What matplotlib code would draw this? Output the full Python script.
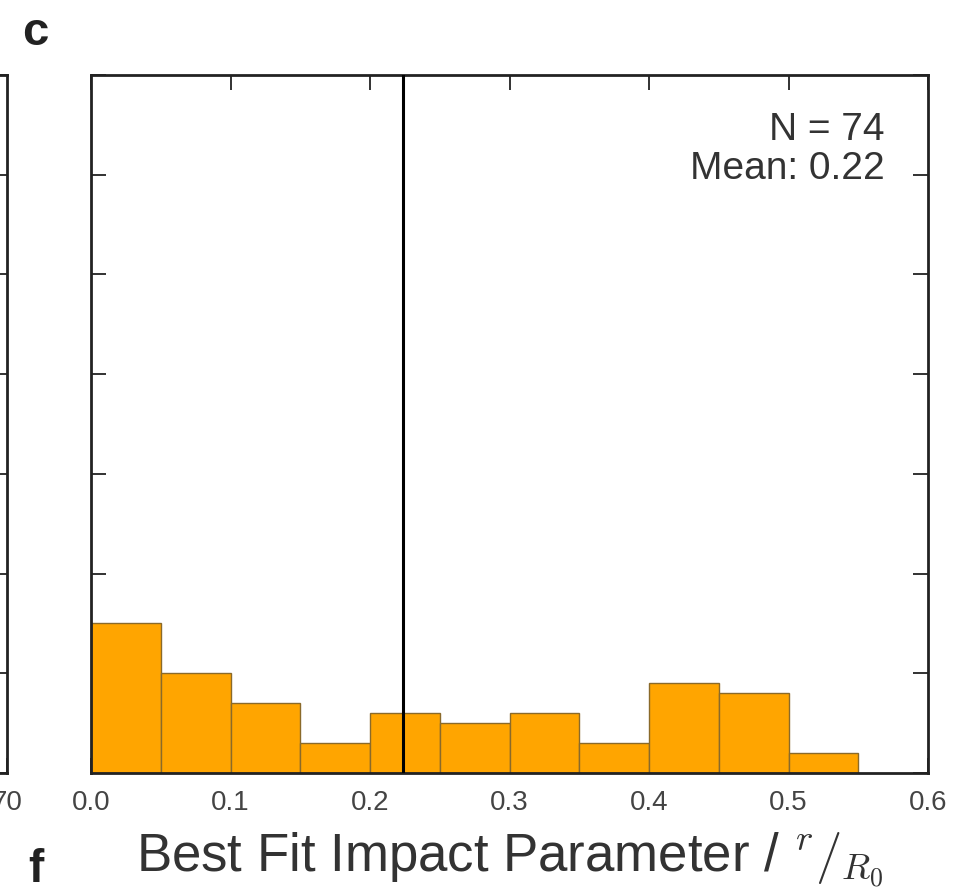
import matplotlib
matplotlib.use("Agg")
import matplotlib.pyplot as plt
import numpy as np

plt.rcParams['font.family'] = ['Liberation Sans', 'DejaVu Sans']
plt.rcParams['mathtext.fontset'] = 'cm'

# histogram of best fit impact parameter (counts per 0.05 bin)
bin_edges = [0.0, 0.05, 0.10, 0.15, 0.20, 0.25, 0.30, 0.35, 0.40, 0.45, 0.50, 0.55]
counts = [15, 10, 7, 3, 6, 5, 6, 3, 9, 8, 2]
mean_value = 0.224
n_total = 74
xticks = [0.0, 0.1, 0.2, 0.3, 0.4, 0.5, 0.6]
yticks = [0, 10, 20, 30, 40, 50, 60, 70]

fig = plt.figure(figsize=(9.56, 8.91), dpi=100)

spine_col = '#222222'
text_col = '#444444'

ax = fig.add_axes([91/956, 1-773/891, (928-91)/956, (773-75)/891])

ax.bar(bin_edges[:-1], counts, width=np.diff(bin_edges), align='edge',
       color='#FFA500', edgecolor='#8a6a2a', linewidth=1.0, zorder=2)
ax.axvline(mean_value, color='black', linewidth=2.2, zorder=3)

ax.set_xlim(0, 0.6)
ax.set_ylim(0, 70)
ax.set_xticks(xticks)
ax.set_yticks(yticks)
ax.set_yticklabels([])
ax.tick_params(direction='in', length=11, width=1.3, colors=spine_col,
               top=True, right=True, labelsize=20, pad=12)
for lab in ax.get_xticklabels():
    lab.set_color(text_col)
for s in ax.spines.values():
    s.set_color(spine_col)
    s.set_linewidth(2.0)

ax.text(0.948, 0.947, f"N = {n_total}\nMean: 0.22", transform=ax.transAxes,
        ha='right', va='top', fontsize=28, color='#333333', linespacing=1.1)

ax.set_xlabel(r"Best Fit Impact Parameter / $^r/_{R_0}$", fontsize=38,
              color='#333333', labelpad=11)

# sliver of the neighbouring panel on the left
ax_left = fig.add_axes([-0.5, 1-773/891, 0.5 + 7/956, (773-75)/891])
ax_left.set_xlim(0, 70)
ax_left.set_ylim(0, 70)
ax_left.set_xticks([70])
ax_left.set_yticks(yticks)
ax_left.set_yticklabels([])
ax_left.tick_params(direction='in', length=11, width=1.3, colors=spine_col,
                    right=True, labelsize=20, pad=12)
for lab in ax_left.get_xticklabels():
    lab.set_color(text_col)
for s in ax_left.spines.values():
    s.set_color(spine_col)
    s.set_linewidth(2.0)

fig.text(22/956, 1-45/891, "c", fontsize=34, fontweight='bold', color='#222222')
fig.text(28/956, 1-882/891, "f", fontsize=33, fontweight='bold', color='#222222',
         va='baseline')

fig.savefig("out.png", dpi=100)
